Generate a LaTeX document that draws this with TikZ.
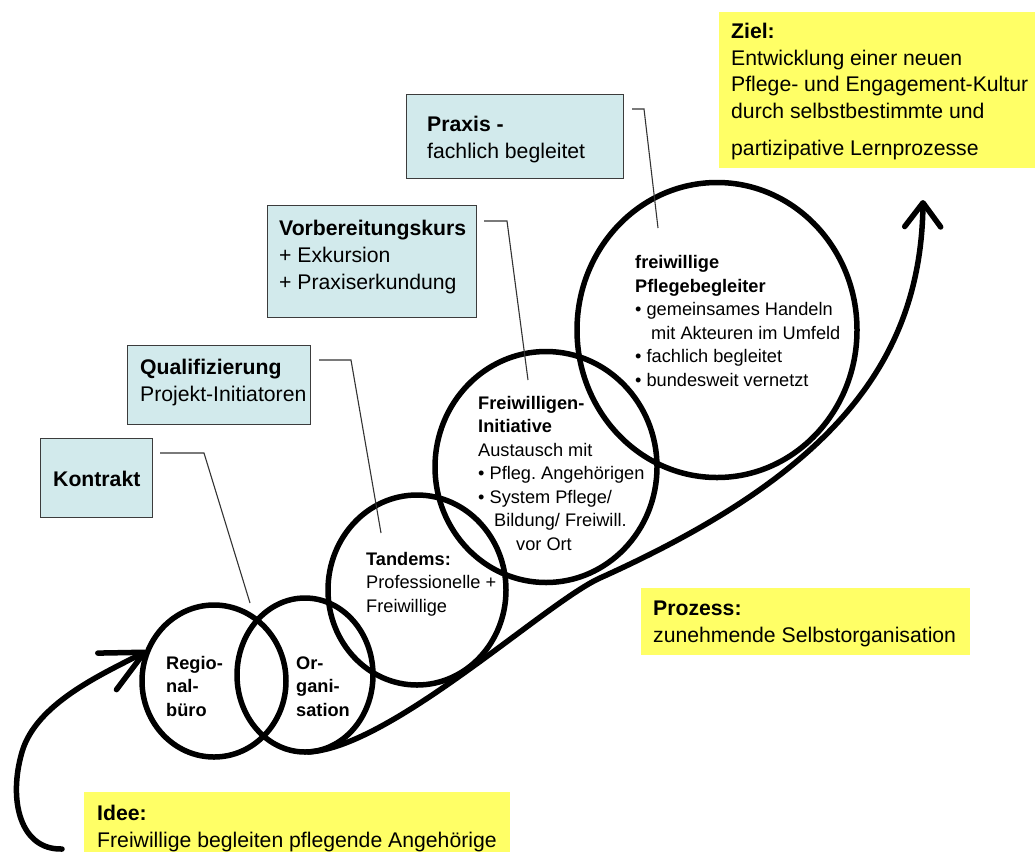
\documentclass[tikz,border=0pt]{standalone}
\usepackage{fontspec}
\setmainfont{Liberation Sans}
\usetikzlibrary{arrows.meta,shapes.geometric}
\definecolor{boxblue}{RGB}{210,234,236}
\definecolor{boxyellow}{RGB}{255,255,102}
\definecolor{boxedge}{RGB}{60,60,60}
\frenchspacing
\begin{document}
\begin{tikzpicture}[x=1pt,y=-1pt,
  ring/.style={draw, ellipse, line width=5.5pt, inner sep=0pt},
  flow/.style={line width=5.5pt, line cap=round, line join=round},
  bluebox/.style={draw=boxedge, line width=1.3pt, fill=boxblue, rectangle, inner sep=0pt, anchor=north west},
  yellowbox/.style={fill=boxyellow, rectangle, inner sep=0pt, anchor=north west},
  % multi-line texts are placed by the baseline of their last line
  boxtext/.style={anchor=base west, align=left, inner sep=0pt, font=\fontsize{21.2pt}{26.8pt}\selectfont},
  ringtext/.style={anchor=base west, align=left, inner sep=0pt, font=\fontsize{18.2pt}{23.5pt}\selectfont},
  leader/.style={draw=black!80, line width=1.1pt},
]
\useasboundingbox (0,0) rectangle (1035,852);

% stages of the process
\node[ring, minimum width=144pt, minimum height=152pt] (regio) at (214,681) {};
\node[ring, minimum width=136pt, minimum height=154pt] (orga) at (305,675) {};
\node[ring, minimum width=178pt, minimum height=190pt] (tandem) at (417,590) {};
\node[ring, minimum width=222pt, minimum height=231pt] (initiative) at (546,467) {};
\node[ring, minimum width=280pt, minimum height=295pt] (begleiter) at (717,330) {};

% idea loop and growth arrow
\coordinate (loopstart) at (62,849);
\coordinate (looptip) at (147,651);
\draw[flow, -{Straight Barb[length=42pt,width=41pt,round]}]
  (loopstart) .. controls (20,850) and (8,800) .. (22,752)
  .. controls (36,704) and (100,675) .. (looptip);

\coordinate (growstart) at (308,752);
\coordinate (growmid) at (600,578);
\coordinate (growtip) at (923,200);
\draw[flow, -{Straight Barb[length=24pt,width=36pt,round]}]
  (growstart) .. controls (390,748) and (545,603) .. (growmid)
  .. controls (820,479) and (921,370) .. (growtip);

% stage boxes
\node[bluebox, minimum width=112pt, minimum height=79pt] (kontraktbox) at (40,438) {};
\node[bluebox, minimum width=183pt, minimum height=79pt] (qualbox) at (127,345) {};
\node[bluebox, minimum width=209pt, minimum height=112pt] (vorbbox) at (267,205) {};
\node[bluebox, minimum width=217pt, minimum height=84pt] (praxisbox) at (406,94) {};

\node[boxtext] (kontrakt) at (53,486) {\textbf{Kontrakt}};
\node[boxtext] (qual) at (140,401) {\textbf{Qualifizierung}\\Projekt-Initiatoren};
\node[boxtext] (vorb) at (279,289) {\textbf{Vorbereitungskurs}\\+ Exkursion\\+ Praxiserkundung};
\node[boxtext] (praxis) at (427,158) {\textbf{Praxis -}\\fachlich begleitet};

% goal, process and idea notes
\node[yellowbox, minimum width=316pt, minimum height=156pt] (zielbox) at (719,12) {};
\node[yellowbox, minimum width=329pt, minimum height=67pt] (prozessbox) at (641,588) {};
\node[yellowbox, minimum width=426pt, minimum height=60pt] (ideebox) at (84,792) {};

\node[boxtext] (ziel) at (731,155) {\textbf{Ziel:}\\Entwicklung einer neuen\\Pflege- und Engagement-Kultur\\durch selbstbestimmte und\\[9.5pt]partizipative Lernprozesse};
\node[boxtext] (prozess) at (653,642) {\textbf{Prozess:}\\zunehmende Selbstorganisation};
\node[boxtext] (idee) at (97,847) {\textbf{Idee:}\\Freiwillige begleiten pflegende Angehörige};

% texts inside the stages
\node[ringtext] (regiotext) at (166,716) {\textbf{Regio-}\\\textbf{nal-}\\\textbf{büro}};
\node[ringtext] (orgatext) at (296,716) {\textbf{Or-}\\\textbf{gani-}\\\textbf{sation}};
\node[ringtext] (tandemtext) at (366,612) {\textbf{Tandems:}\\Professionelle +\\Freiwillige};
\node[ringtext] (initiativetext) at (478,550) {\textbf{Freiwilligen-}\\\textbf{Initiative}\\Austausch mit\\• Pfleg. Angehörigen\\• System Pflege/\\\hspace*{16pt}Bildung/ Freiwill.\\\hspace*{38pt}vor Ort};
\node[ringtext] (begleitertext) at (635,386) {\textbf{freiwillige}\\\textbf{Pflegebegleiter}\\• gemeinsames Handeln\\\hspace*{16pt}mit Akteuren im Umfeld\\• fachlich begleitet\\• bundesweit vernetzt};

% callout leaders from the boxes into the stages
\coordinate (k1) at (160,453); \coordinate (k2) at (204,453); \coordinate (k3) at (250,603);
\coordinate (q1) at (319,360); \coordinate (q2) at (351,360); \coordinate (q3) at (381,533);
\coordinate (v1) at (484,221); \coordinate (v2) at (507,221); \coordinate (v3) at (528,380);
\coordinate (p1) at (632,109); \coordinate (p2) at (644,109); \coordinate (p3) at (658,228);
\draw[leader] (k1) -- (k2) -- (k3);
\draw[leader] (q1) -- (q2) -- (q3);
\draw[leader] (v1) -- (v2) -- (v3);
\draw[leader] (p1) -- (p2) -- (p3);
\end{tikzpicture}
\end{document}
